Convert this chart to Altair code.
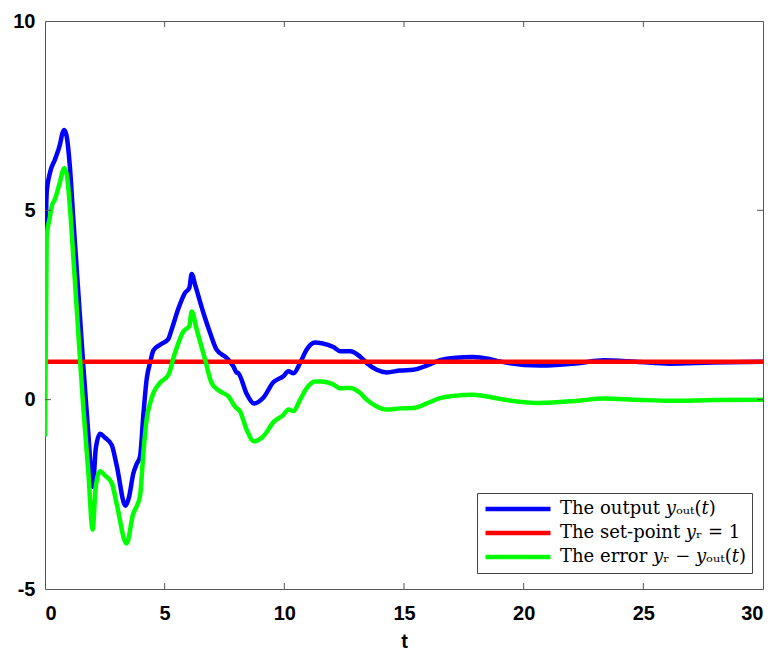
import altair as alt
import pandas as pd

# ---- data ----
t_out = [0, 0.07, 0.21, 0.42, 0.63, 0.72, 0.81, 0.92, 1.04, 1.18, 1.32, 1.46, 1.6, 1.81, 2.0, 2.12,
         2.3, 2.5, 2.79, 3.0, 3.36, 3.5, 3.69, 3.83, 3.97, 4.11, 4.25, 4.4, 4.53, 4.81, 5.15,
         5.29, 5.57, 5.85, 6.03, 6.13, 6.27, 6.62, 6.9, 7.17, 7.59, 7.87, 8.0, 8.08, 8.43,
         8.73, 9.12, 9.54, 9.96, 10.17, 10.38, 10.66, 10.93, 11.28, 11.56, 12.05, 12.33,
         12.75, 13.16, 13.44, 13.86, 14.28, 14.83, 15.39, 15.95, 16.5, 17.06, 17.9, 18.6,
         19.0, 20.69, 22.36, 23.33, 24.7, 26.1, 27.9, 30]
y_out = [3.0, 5.46, 6.0, 6.35, 6.75, 7.02, 7.12, 6.9, 6.15, 4.8, 3.5, 2.2, 0.9, -0.9, -2.3, -1.3,
         -0.9, -1.0, -1.2, -1.75, -2.8, -2.6, -1.95, -1.7, -1.5, -0.4, 0.55, 1.0, 1.3, 1.45, 1.6,
         1.85, 2.4, 2.82, 2.95, 3.32, 3.04, 2.29, 1.76, 1.32, 1.1, 0.88, 0.72, 0.7, 0.15,
         -0.1, 0.05, 0.46, 0.62, 0.75, 0.7, 0.97, 1.32, 1.51, 1.49, 1.39, 1.28,
         1.28, 1.14, 0.97, 0.79, 0.72, 0.77, 0.79, 0.9, 1.04, 1.1, 1.13, 1.07,
         1.01, 0.9, 0.97, 1.04, 1.0, 0.95, 0.98, 1.0]

t_set = [0, 30]
y_set = [1, 1]

t_err = [0, 0.07, 0.21, 0.28, 0.42, 0.56, 0.63, 0.72, 0.81, 0.92, 1.04, 1.18, 1.32, 1.46, 1.6, 1.81,
         1.99, 2.12, 2.3, 2.5, 2.79, 3.0, 3.41, 3.69, 3.83, 3.97, 4.11, 4.25, 4.39, 4.53, 4.81,
         5.15, 5.43, 5.78, 6.03, 6.13, 6.34, 6.69, 6.96, 7.31, 7.66, 7.94, 8.15, 8.43, 8.73,
         9.12, 9.54, 9.96, 10.17, 10.38, 10.66, 10.93, 11.28, 11.56, 12.05, 12.33, 12.75,
         13.16, 13.44, 13.86, 14.28, 14.83, 15.39, 15.95, 16.5, 17.06, 17.9, 18.6, 19.0,
         20.69, 22.36, 23.33, 24.7, 26.1, 27.9, 30]
y_err = [-0.97, 4.3, 4.84, 5.1, 5.3, 5.6, 5.75, 6.0, 6.12, 5.9, 5.1, 3.8, 2.46, 1.1, -0.2, -1.9,
         -3.43, -2.3, -1.89, -2.0, -2.2, -2.77, -3.8, -3.0, -2.82, -2.55, -1.41, -0.5, -0.1, 0.18, 0.45,
         0.65, 1.23, 1.8, 1.94, 2.33, 1.85, 1.06, 0.44, 0.22, 0.09, -0.18, -0.31, -0.8, -1.1,
         -0.97, -0.6, -0.4, -0.26, -0.3, 0.0, 0.3, 0.48, 0.48, 0.4, 0.3, 0.31,
         0.18, 0.0, -0.18, -0.26, -0.23, -0.22, -0.1, 0.04, 0.1, 0.13, 0.07, 0.02,
         -0.09, -0.02, 0.03, 0.0, -0.03, -0.01, 0.0]

x_tick_values = [0, 5, 10, 15, 20, 25, 30]
y_tick_values = [-5, 0, 5, 10]
x_inner_ticks = [5, 10, 15, 20, 25]
y_inner_ticks = [0, 5]

names = ["The output 𝑦ₒᵤₜ(𝑡)", "The set-point 𝑦ᵣ = 1", "The error 𝑦ᵣ − 𝑦ₒᵤₜ(𝑡)"]
colors = ["#0000ff", "#ff0000", "#00ff00"]

df = pd.concat([
    pd.DataFrame({"t": t_out, "v": y_out, "series": names[0]}),
    pd.DataFrame({"t": t_set, "v": y_set, "series": names[1]}),
    pd.DataFrame({"t": t_err, "v": y_err, "series": names[2]}),
], ignore_index=True)

W, H = 718, 568

xscale = alt.Scale(domain=[0, 30], nice=False, zero=False)
yscale = alt.Scale(domain=[-5, 10], nice=False, zero=False)

xaxis = alt.Axis(values=x_tick_values, grid=False, domain=False, ticks=False,
                 labelFont="Liberation Sans", labelFontSize=20, labelFontWeight="bold",
                 labelColor="black", labelPadding=14, labelExpr="toString(datum.value)",
                 title="t",
                 titleFont="Liberation Sans", titleFontSize=20, titleFontWeight="bold",
                 titleColor="black", titlePadding=8)
yaxis = alt.Axis(values=y_tick_values, grid=False, domain=False, ticks=False,
                 labelFont="Liberation Sans", labelFontSize=20, labelFontWeight="bold",
                 labelColor="black", labelPadding=10, labelExpr="toString(datum.value)",
                 title=None)

legend = alt.Legend(title=None, orient="none", legendX=432, legendY=472,
                    symbolType="stroke", symbolSize=4225, symbolStrokeWidth=4.5,
                    clipHeight=20, labelFont="DejaVu Serif", labelFontSize=18,
                    labelColor="black", labelLimit=400, labelOffset=7,
                    strokeColor="#444", fillColor="white", padding=6, rowPadding=4)

color = alt.Color("series:N", scale=alt.Scale(domain=names, range=colors), legend=legend)

def line_layer(name):
    return alt.Chart(df).transform_filter(alt.datum.series == name).mark_line(
        strokeWidth=4.5, interpolate="monotone", clip=True
    ).encode(
        x=alt.X("t:Q", scale=xscale, axis=xaxis),
        y=alt.Y("v:Q", scale=yscale, axis=yaxis),
        color=color,
        order=alt.Order("t:Q"),
    )

layers = [line_layer(n) for n in names]

xt = pd.DataFrame({"t": x_inner_ticks})
yt = pd.DataFrame({"v": y_inner_ticks})
tick_color = "#555"
layers += [
    alt.Chart(xt).mark_rule(color=tick_color, strokeWidth=1).encode(
        x=alt.X("t:Q", scale=xscale), y=alt.value(H - 6), y2=alt.value(H)),
    alt.Chart(xt).mark_rule(color=tick_color, strokeWidth=1).encode(
        x=alt.X("t:Q", scale=xscale), y=alt.value(0), y2=alt.value(6)),
    alt.Chart(yt).mark_rule(color=tick_color, strokeWidth=1).encode(
        y=alt.Y("v:Q", scale=yscale), x=alt.value(0), x2=alt.value(6)),
    alt.Chart(yt).mark_rule(color=tick_color, strokeWidth=1).encode(
        y=alt.Y("v:Q", scale=yscale), x=alt.value(W - 6), x2=alt.value(W)),
]

chart = alt.layer(*layers).properties(
    width=W, height=H,
    autosize=alt.AutoSizeParams(type="none"),
    padding={"left": 37, "top": 13, "right": 7, "bottom": 63},
    background="white",
).configure_view(stroke="#555", strokeWidth=1)

chart.save("out.html", embed_options={"renderer": "svg", "actions": False})
